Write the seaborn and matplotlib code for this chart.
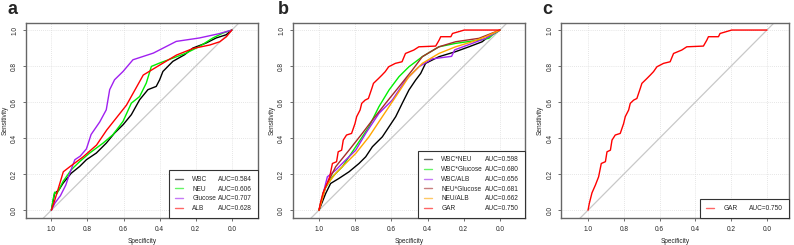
import numpy as np
import pandas as pd
import matplotlib.pyplot as plt
import seaborn as sns
from matplotlib.lines import Line2D

# ---- panel a ----
wbc_spec = [1, .982, .96, .935, .89, .843, .806, .751, .696, .65, .603, .557, .511, .465, .419, .40, .382, .327, .262, .216, .142, .087, .031, 0]
wbc_sens = [0, .094, .11, .15, .205, .243, .28, .317, .372, .428, .474, .53, .613, .669, .687, .724, .77, .826, .863, .9, .928, .956, .974, 1]
neu_spec = [1, .991, .982, .97, .935, .89, .843, .788, .714, .659, .603, .557, .511, .474, .446, .40, .327, .253, .179, .105, .05, 0]
neu_sens = [0, .057, .1, .09, .16, .224, .27, .317, .372, .419, .493, .594, .631, .706, .798, .817, .844, .872, .909, .956, .983, 1]
glu_spec = [1, .98, .95, .92, .90, .87, .84, .806, .78, .732, .696, .677, .65, .603, .548, .435, .308, .18, .07, 0]
glu_sens = [0, .04, .08, .14, .20, .28, .30, .34, .42, .49, .557, .669, .724, .77, .835, .872, .937, .956, .98, 1]
alb_spec = [1, .981, .934, .898, .824, .75, .694, .584, .491, .399, .307, .214, .122, .067, .03, 0]
alb_sens = [0, .056, .213, .241, .296, .361, .444, .583, .75, .806, .861, .898, .917, .935, .963, 1]

# ---- panel b ----
wn_spec = [1, .963, .936, .89, .834, .779, .742, .705, .65, .613, .576, .54, .503, .466, .438, .411, .337, .245, .171, .098, .052, 0]
wn_sens = [0, .093, .148, .176, .213, .259, .296, .352, .407, .463, .519, .593, .667, .722, .759, .815, .852, .88, .907, .935, .972, 1]
wg_spec = [1, .972, .926, .871, .797, .724, .669, .613, .558, .503, .429, .337, .245, .116, .061, .042, 0]
wg_sens = [0, .111, .185, .241, .352, .463, .574, .667, .741, .796, .852, .907, .926, .944, .954, .972, 1]
wa_spec = [1, .954, .908, .853, .797, .742, .669, .595, .521, .448, .374, .267, .25, .153, .079, 0]
wa_sens = [0, .185, .222, .278, .333, .426, .537, .611, .722, .796, .84, .854, .89, .926, .954, 1]
ng_spec = [1, .963, .908, .834, .761, .705, .632, .558, .484, .429, .337, .245, .116, 0]
ng_sens = [0, .13, .241, .333, .426, .5, .593, .685, .778, .852, .907, .935, .954, 1]
na_spec = [1, .963, .908, .853, .797, .724, .65, .576, .503, .429, .337, .245, .153, .079, 0]
na_sens = [0, .13, .204, .259, .315, .407, .519, .63, .741, .815, .87, .907, .935, .963, 1]
gar_spec = [1, .993, .978, .959, .941, .926, .903, .894, .875, .866, .848, .82, .801, .792, .773, .764, .745, .727,
            .708, .699, .671, .652, .634, .615, .578, .541, .522, .476, .448, .355, .336, .327, .271, .262, .197, 0]
gar_sens = [0, .037, .096, .139, .185, .259, .269, .324, .333, .389, .417, .426, .481, .519, .556, .593, .611, .62,
            .676, .704, .731, .75, .769, .796, .815, .824, .87, .889, .907, .911, .944, .963, .963, .981, 1, 1]

names_a = ["WBC", "NEU", "Glucose", "ALB"]
auc_a = ["AUC=0.584", "AUC=0.606", "AUC=0.707", "AUC=0.628"]
names_b = ["WBC*NEU", "WBC*Glucose", "WBC/ALB", "NEU*Glucose", "NEU/ALB", "GAR"]
auc_b = ["AUC=0.598", "AUC=0.680", "AUC=0.656", "AUC=0.681", "AUC=0.662", "AUC=0.750"]
names_c = ["GAR"]
auc_c = ["AUC=0.750"]

cols_a = ["black", "#00EE00", "#A020F0", "#FF0000"]
cols_b = ["black", "#00EE00", "#A020F0", "#A52A2A", "#FFA500", "#FF0000"]
cols_c = ["#FF0000"]


def long_df(names, specs, senss):
    parts = []
    for n, s, v in zip(names, specs, senss):
        parts.append(pd.DataFrame({"spec": s, "sens": v, "marker": n}))
    return pd.concat(parts, ignore_index=True)


df_a = long_df(names_a, [wbc_spec, neu_spec, glu_spec, alb_spec], [wbc_sens, neu_sens, glu_sens, alb_sens])
df_b = long_df(names_b, [wn_spec, wg_spec, wa_spec, ng_spec, na_spec, gar_spec],
               [wn_sens, wg_sens, wa_sens, ng_sens, na_sens, gar_sens])
df_c = long_df(names_c, [gar_spec], [gar_sens])

sns.set_style("white")
plt.rcParams["font.family"] = ["Liberation Sans", "DejaVu Sans"]
FS = 4.7

fig = plt.figure(figsize=(7.94, 2.45), dpi=100)
boxes = [(0.0327, 0.292), (0.369, 0.292), (0.7066, 0.287)]
xlims = [(1.141, -0.144), (1.144, -0.138), (1.151, -0.123)]
tag_x = [7 / 794, 278 / 794, 542 / 794]
colspace = [-2.4, -2.4, -0.9]
panels = [(df_a, names_a, auc_a, cols_a, "a"), (df_b, names_b, auc_b, cols_b, "b"), (df_c, names_c, auc_c, cols_c, "c")]

for (left, width), xl, tx, cs, (df, names, aucs, cols, tag) in zip(boxes, xlims, tag_x, colspace, panels):
    ax = fig.add_axes([left, 0.110, width, 0.796])
    ax.set_xlim(xl)
    ax.set_ylim(-0.044, 1.039)
    ticks = [0, 0.2, 0.4, 0.6, 0.8, 1.0]
    for t in ticks:
        ax.axvline(t, color="#dddddd", lw=0.6, ls=(0, (1, 1.5)), zorder=0)
        ax.axhline(t, color="#dddddd", lw=0.6, ls=(0, (1, 1.5)), zorder=0)
    ax.plot([1.3, -0.3], [-0.3, 1.3], color="#c8c8c8", lw=0.9, zorder=1)
    sns.lineplot(data=df, x="spec", y="sens", hue="marker", palette=dict(zip(names, cols)),
                 estimator=None, sort=False, lw=1.0, legend=False, ax=ax, zorder=2)
    ax.set_xticks(ticks[::-1])
    ax.set_xticklabels(["1.0", "0.8", "0.6", "0.4", "0.2", "0.0"])
    ax.set_yticks(ticks)
    ax.set_yticklabels(["0.0", "0.2", "0.4", "0.6", "0.8", "1.0"], rotation=90, va="center")
    ax.tick_params(axis="both", labelsize=FS, length=2.2, width=0.6, color="#555555",
                   direction="out", pad=3.4, bottom=True, left=True)
    ax.set_xlabel("Specificity", fontsize=FS, labelpad=4)
    ax.set_ylabel("Sensitivity", fontsize=FS, labelpad=2)
    for sp in ax.spines.values():
        sp.set_color("#666666")
        sp.set_linewidth(1.0)

    handles = [Line2D([], [], color=c, lw=1.0, alpha=0.6) for c in cols]
    blanks = [Line2D([], [], color="none") for _ in cols]
    leg = ax.legend(handles + blanks, names + aucs, ncol=2, loc="lower right", borderaxespad=0,
                    fontsize=FS, frameon=True, fancybox=False, framealpha=1, edgecolor="#333333",
                    handlelength=1.3, handletextpad=1.4, columnspacing=cs, labelspacing=0.42,
                    borderpad=0.9)
    leg.get_frame().set_linewidth(0.8)

    fig.text(tx, 1 - 14 / 245, tag, fontsize=13, fontweight="bold", va="baseline", ha="left")

fig.savefig("out.png", dpi=100)
